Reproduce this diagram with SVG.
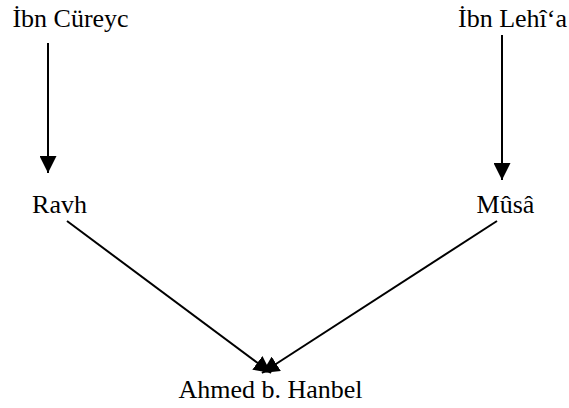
<svg xmlns="http://www.w3.org/2000/svg" width="569" height="408" viewBox="0 0 569 408">
<style>
text{font-family:"Liberation Serif","Times New Roman",serif;font-size:26px;fill:#000;text-anchor:middle}
.c{stroke:#000;stroke-width:2;fill:none}
</style>
<defs>
<marker id="ah" markerUnits="userSpaceOnUse" markerWidth="17" markerHeight="17" refX="16" refY="8" orient="auto" viewBox="0 0 16 16">
<path d="M0,0 L16,8 L0,16 z" fill="#000"/>
</marker>
</defs>
<rect width="569" height="408" fill="#fff"/>
<g id="connectors">
<line class="c" x1="48" y1="43" x2="48" y2="173" marker-end="url(#ah)"/>
<line class="c" x1="502" y1="35" x2="502" y2="180" marker-end="url(#ah)"/>
<line class="c" x1="67" y1="221" x2="271" y2="373" marker-end="url(#ah)"/>
<line class="c" x1="497" y1="221" x2="262" y2="373" marker-end="url(#ah)"/>
</g>
<g id="ibn-cureyc"><text x="70.5" y="27">İbn Cüreyc</text></g>
<g id="ibn-lehia"><text x="512.5" y="27">İbn Lehî‘a</text></g>
<g id="ravh"><text x="59.5" y="213">Ravh</text></g>
<g id="musa"><text x="505.5" y="213">Mûsâ</text></g>
<g id="ahmed"><text x="270.5" y="398">Ahmed b. Hanbel</text></g>
</svg>
